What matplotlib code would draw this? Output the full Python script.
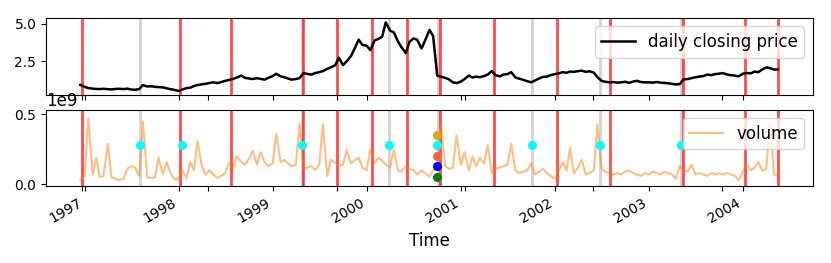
import matplotlib
matplotlib.use("Agg")
import matplotlib.pyplot as plt
import matplotlib.dates as mdates
import numpy as np
import pandas as pd

# semi-monthly sampling (1st and 15th), 1996-12-15 .. 2004-05-15
dates = pd.date_range("1996-12-15", "2004-05-15", freq="SMS")

price_1996 = [0.93]
price_1997 = [0.80, 0.72, 0.68, 0.66, 0.65, 0.67, 0.64, 0.63, 0.66, 0.67, 0.65, 0.68,
              0.62, 0.60, 0.65, 0.92, 0.82, 0.84, 0.80, 0.78, 0.76, 0.70, 0.64, 0.60]
price_1998 = [0.52, 0.62, 0.72, 0.74, 0.85, 0.92, 0.96, 1.00, 1.06, 1.10, 1.05, 1.12,
              1.20, 1.26, 1.33, 1.42, 1.55, 1.40, 1.36, 1.32, 1.38, 1.33, 1.28, 1.40]
price_1999 = [1.52, 1.67, 1.50, 1.44, 1.36, 1.28, 1.32, 1.38, 1.72, 1.66, 1.62, 1.72,
              1.78, 1.85, 2.00, 2.10, 2.25, 2.75, 2.25, 2.50, 2.85, 3.35, 3.95, 3.60]
price_2000 = [3.55, 3.25, 3.90, 4.00, 4.14, 5.10, 4.55, 4.45, 3.85, 3.45, 3.05, 3.80,
              4.03, 3.95, 3.36, 3.90, 4.60, 4.20, 1.55, 1.48, 1.40, 1.30, 1.10, 1.05]
price_2001 = [1.15, 1.32, 1.55, 1.42, 1.48, 1.44, 1.52, 1.62, 1.85, 1.58, 1.50, 1.62,
              1.65, 1.78, 1.42, 1.35, 1.26, 1.18, 1.10, 1.22, 1.36, 1.46, 1.48, 1.58]
price_2002 = [1.65, 1.70, 1.78, 1.74, 1.82, 1.80, 1.85, 1.88, 1.80, 1.84, 1.75, 1.45,
              1.20, 1.14, 1.10, 1.12, 1.08, 1.10, 1.14, 1.06, 1.15, 1.20, 1.12, 1.10]
price_2003 = [1.10, 1.08, 1.12, 1.08, 1.06, 1.04, 1.00, 0.96, 0.98, 1.30, 1.32, 1.38,
              1.44, 1.48, 1.52, 1.62, 1.58, 1.65, 1.68, 1.72, 1.62, 1.58, 1.55, 1.50]
price_2004 = [1.68, 1.72, 1.70, 1.82, 1.78, 1.95, 2.10, 2.05, 1.95, 1.96]

vol_1996 = [0.03]
vol_1997 = [0.06, 0.47, 0.07, 0.19, 0.05, 0.06, 0.29, 0.05, 0.04, 0.03, 0.04, 0.11,
            0.13, 0.12, 0.06, 0.45, 0.05, 0.045, 0.05, 0.19, 0.07, 0.16, 0.08, 0.035]
vol_1998 = [0.04, 0.10, 0.045, 0.16, 0.10, 0.31, 0.13, 0.07, 0.10, 0.07, 0.045, 0.06,
            0.08, 0.15, 0.12, 0.20, 0.16, 0.14, 0.18, 0.24, 0.14, 0.23, 0.16, 0.13]
vol_1999 = [0.15, 0.36, 0.16, 0.175, 0.15, 0.13, 0.14, 0.43, 0.11, 0.12, 0.13, 0.10,
            0.14, 0.43, 0.06, 0.175, 0.15, 0.13, 0.14, 0.245, 0.15, 0.17, 0.19, 0.12]
vol_2000 = [0.10, 0.25, 0.15, 0.19, 0.17, 0.14, 0.12, 0.245, 0.10, 0.09, 0.13, 0.11,
            0.10, 0.07, 0.10, 0.08, 0.054, 0.10, 0.12, 0.43, 0.13, 0.11, 0.12, 0.35]
vol_2001 = [0.14, 0.23, 0.10, 0.20, 0.13, 0.19, 0.15, 0.28, 0.08, 0.11, 0.12, 0.13,
            0.14, 0.29, 0.10, 0.08, 0.09, 0.10, 0.15, 0.07, 0.09, 0.11, 0.08, 0.06]
vol_2002 = [0.04, 0.09, 0.16, 0.10, 0.26, 0.08, 0.12, 0.175, 0.07, 0.08, 0.10, 0.43,
            0.11, 0.09, 0.08, 0.07, 0.08, 0.07, 0.09, 0.10, 0.08, 0.07, 0.06, 0.08]
vol_2003 = [0.07, 0.09, 0.08, 0.07, 0.09, 0.08, 0.07, 0.04, 0.13, 0.10, 0.09, 0.14,
            0.07, 0.08, 0.07, 0.06, 0.08, 0.07, 0.08, 0.07, 0.08, 0.07, 0.06, 0.03]
vol_2004 = [0.09, 0.14, 0.10, 0.12, 0.16, 0.10, 0.11, 0.43, 0.07, 0.06]

price = (price_1996 + price_1997 + price_1998 + price_1999 + price_2000
         + price_2001 + price_2002 + price_2003 + price_2004)
volume = np.array(vol_1996 + vol_1997 + vol_1998 + vol_1999 + vol_2000
                  + vol_2001 + vol_2002 + vol_2003 + vol_2004) * 1e9

# event markers
red_events = ["1996-12-20", "1998-01-06", "1998-07-25", "1999-04-28", "1999-09-06",
              "2000-01-22", "2000-06-04", "2000-10-10", "2001-05-08", "2002-01-08",
              "2002-08-02", "2003-05-15", "2004-01-08", "2004-05-15"]
gray_events = ["1997-08-03", "1999-04-23", "2000-03-28", "2000-10-04", "2001-10-05",
               "2002-06-25", "2003-05-05"]
cyan_dates = ["1997-08-03", "1998-01-12", "1999-04-23", "2000-03-28", "2000-09-29",
              "2001-10-05", "2002-06-25", "2003-05-05"]
cyan_level = 0.28e9
stack_date = "2000-09-29"
stack_levels = [0.355e9, 0.205e9, 0.13e9, 0.055e9]
stack_colors = ["goldenrod", "tomato", "blue", "green"]

extra_ticks = ["1996-12-20", "1998-04-25", "1999-09-07", "2001-01-17",
               "2002-05-29", "2003-10-11"]

fig, (ax1, ax2) = plt.subplots(2, 1, sharex=True, figsize=(8.31, 2.63), dpi=100)
fig.subplots_adjust(left=0.0554, right=0.978, top=0.9316, bottom=0.2909, hspace=0.195)

for ax in (ax1, ax2):
    for d in gray_events:
        ax.axvline(pd.Timestamp(d), color="lightgray", linewidth=2, zorder=1)
    for d in red_events:
        ax.axvline(pd.Timestamp(d), color="red", alpha=0.7, linewidth=2, zorder=1)

ax1.plot(dates, price, color="black", linewidth=1.8, label="daily closing price", zorder=3)
ax1.legend(loc="upper right", fontsize=12)
ax1.set_ylim(0.27, 5.4)
ax1.set_yticks([2.5, 5.0])

ax2.plot(dates, volume, color="C1", alpha=0.5, linewidth=1.5, label="volume", zorder=2)
ax2.plot(pd.to_datetime(cyan_dates), [cyan_level] * len(cyan_dates), "o",
         color="cyan", markersize=5.5, zorder=4)
for lv, c in zip(stack_levels, stack_colors):
    ax2.plot(pd.Timestamp(stack_date), lv, "o", color=c, markersize=5.5, zorder=4)
ax2.legend(loc="upper right", fontsize=12)
ax2.set_ylim(-0.016e9, 0.534e9)
ax2.set_yticks([0, 0.5e9])
ax2.ticklabel_format(axis="y", style="sci", scilimits=(9, 9))
ax2.yaxis.get_offset_text().set_fontsize(12)

ax2.set_xlim(pd.Timestamp("1996-08-04"), pd.Timestamp("2004-09-28"))
ax2.xaxis.set_major_locator(mdates.YearLocator())
ax2.xaxis.set_major_formatter(mdates.DateFormatter("%Y"))
ax2.xaxis.set_minor_locator(matplotlib.ticker.FixedLocator(
    mdates.date2num(pd.to_datetime(extra_ticks))))
for ax in (ax1, ax2):
    ax.tick_params(axis="x", which="minor", length=3.5, width=0.8)
for lbl in ax2.get_xticklabels():
    lbl.set_rotation(30)
    lbl.set_ha("right")
ax2.set_xlabel("Time", fontsize=12)

fig.savefig("out.png", dpi=100)
